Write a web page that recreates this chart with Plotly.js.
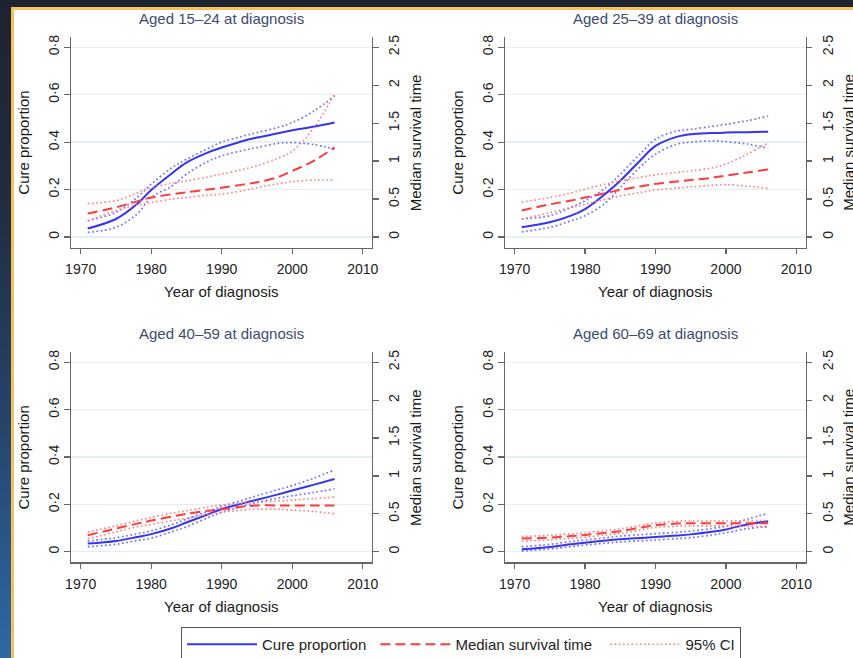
<!DOCTYPE html>
<html>
<head>
<meta charset="utf-8">
<script src="https://cdn.plot.ly/plotly-3.0.1.min.js"></script>
<style>
  html, body { margin: 0; padding: 0; }
  body { width: 853px; height: 658px; overflow: hidden;
         background: linear-gradient(180deg, #1e2330 0%, #212c40 30%, #26456c 65%, #2d69a6 100%); }
  #frame { position: absolute; left: 11px; top: 7px; width: 839px; height: 648px;
           border-top: 3px solid #f5c15d; border-left: 3px solid #f5c15d; background: #ffffff; overflow: hidden; }
  #chart { width: 839px; height: 662px; }
</style>
</head>
<body>
<div id="frame"><div id="chart"></div></div>
<script>
// ---------------- data ----------------
const years = [1971, 1975, 1978, 1980, 1983, 1985, 1988, 1990, 1993, 1995, 1998, 2000, 2003, 2006];

const panelTitles = ['Aged 15\u201324 at diagnosis', 'Aged 25\u201339 at diagnosis',
                     'Aged 40\u201359 at diagnosis', 'Aged 60\u201369 at diagnosis'];

// Cure proportion (left axis)
const cure15   = [0.036, 0.076, 0.139, 0.198, 0.270, 0.314, 0.356, 0.377, 0.405, 0.419, 0.437, 0.450, 0.465, 0.483];
const cureHi15 = [0.069, 0.104, 0.167, 0.223, 0.293, 0.328, 0.372, 0.400, 0.425, 0.440, 0.462, 0.482, 0.530, 0.594];
const cureLo15 = [0.020, 0.041, 0.097, 0.167, 0.216, 0.265, 0.318, 0.342, 0.365, 0.377, 0.395, 0.398, 0.390, 0.370];

const cure25   = [0.041, 0.062, 0.090, 0.118, 0.185, 0.237, 0.328, 0.384, 0.422, 0.433, 0.438, 0.440, 0.442, 0.444];
const cureHi25 = [0.076, 0.090, 0.125, 0.153, 0.209, 0.265, 0.356, 0.412, 0.447, 0.454, 0.466, 0.475, 0.490, 0.510];
const cureLo25 = [0.022, 0.041, 0.068, 0.090, 0.146, 0.209, 0.300, 0.349, 0.391, 0.400, 0.405, 0.402, 0.392, 0.374];

const cure40   = [0.034, 0.045, 0.062, 0.074, 0.100, 0.123, 0.157, 0.180, 0.204, 0.219, 0.242, 0.258, 0.282, 0.307];
const cureHi40 = [0.045, 0.059, 0.075, 0.088, 0.115, 0.137, 0.170, 0.190, 0.218, 0.236, 0.262, 0.279, 0.310, 0.345];
const cureLo40 = [0.021, 0.031, 0.047, 0.057, 0.085, 0.105, 0.143, 0.166, 0.192, 0.208, 0.226, 0.236, 0.250, 0.265];

const cure60   = [0.010, 0.020, 0.031, 0.038, 0.047, 0.052, 0.058, 0.062, 0.068, 0.073, 0.084, 0.094, 0.115, 0.128];
const cureHi60 = [0.021, 0.031, 0.043, 0.049, 0.059, 0.066, 0.072, 0.076, 0.082, 0.087, 0.098, 0.108, 0.137, 0.162];
const cureLo60 = [0.003, 0.011, 0.021, 0.028, 0.036, 0.041, 0.046, 0.049, 0.055, 0.059, 0.070, 0.080, 0.097, 0.106];

// Median survival time (right axis)
const med15   = [0.31, 0.39, 0.47, 0.52, 0.565, 0.59, 0.625, 0.65, 0.69, 0.72, 0.79, 0.87, 1.00, 1.18];
const medHi15 = [0.44, 0.48, 0.58, 0.65, 0.71, 0.74, 0.79, 0.83, 0.89, 0.94, 1.04, 1.13, 1.43, 1.88];
const medLo15 = [0.21, 0.35, 0.42, 0.455, 0.50, 0.52, 0.55, 0.565, 0.61, 0.65, 0.70, 0.73, 0.75, 0.75];

const med25   = [0.35, 0.43, 0.48, 0.52, 0.58, 0.62, 0.67, 0.70, 0.73, 0.75, 0.78, 0.81, 0.85, 0.89];
const medHi25 = [0.46, 0.52, 0.58, 0.63, 0.70, 0.74, 0.79, 0.82, 0.85, 0.87, 0.91, 0.96, 1.09, 1.24];
const medLo25 = [0.24, 0.32, 0.39, 0.43, 0.50, 0.54, 0.59, 0.62, 0.645, 0.66, 0.68, 0.69, 0.67, 0.64];

const med40   = [0.217, 0.305, 0.37, 0.41, 0.465, 0.50, 0.54, 0.56, 0.595, 0.61, 0.61, 0.61, 0.61, 0.61];
const medHi40 = [0.26, 0.34, 0.41, 0.45, 0.51, 0.54, 0.59, 0.615, 0.64, 0.65, 0.67, 0.68, 0.70, 0.72];
const medLo40 = [0.17, 0.26, 0.33, 0.36, 0.41, 0.44, 0.49, 0.52, 0.55, 0.56, 0.56, 0.55, 0.53, 0.50];

const med60   = [0.172, 0.185, 0.205, 0.22, 0.25, 0.27, 0.32, 0.35, 0.37, 0.375, 0.375, 0.375, 0.375, 0.375];
const medHi60 = [0.20, 0.215, 0.235, 0.25, 0.28, 0.30, 0.35, 0.38, 0.40, 0.405, 0.405, 0.405, 0.41, 0.41];
const medLo60 = [0.14, 0.155, 0.175, 0.19, 0.22, 0.24, 0.29, 0.32, 0.335, 0.34, 0.34, 0.34, 0.335, 0.33];

// ticks
const xTicks = [1970, 1980, 1990, 2000, 2010];
const cureTicks = [0, 0.2, 0.4, 0.6, 0.8];
const cureTickText = ['0', '0\u00b72', '0\u00b74', '0\u00b76', '0\u00b78'];
const medTicks = [0, 0.5, 1, 1.5, 2, 2.5];
const medTickText = ['0', '0\u00b75', '1', '1\u00b75', '2', '2\u00b75'];

const seriesNames = ['Cure proportion\u00a0', 'Median survival time\u00a0\u00a0', '95% CI'];

// ---------------- build ----------------
const W = 839, H = 662;
const panels = [
  {cure: cure15, hi: cureHi15, lo: cureLo15, med: med15, mhi: medHi15, mlo: medLo15},
  {cure: cure25, hi: cureHi25, lo: cureLo25, med: med25, mhi: medHi25, mlo: medLo25},
  {cure: cure40, hi: cureHi40, lo: cureLo40, med: med40, mhi: medHi40, mlo: medLo40},
  {cure: cure60, hi: cureHi60, lo: cureLo60, med: med60, mhi: medHi60, mlo: medLo60}
];
// panel boxes in px (div coordinates)
const colX = [[56.8, 357.9], [490.8, 791.5]];
const rowY = [[27, 237.7], [342.1, 552.3]];

const BLUE = '#3434f4', RED = '#ff3b3b', BLUE_CI = '#7070ff', RED_CI = '#ff7d7d';
const FONT = 'Liberation Sans, Arial, Helvetica, sans-serif';

const traces = [];
const layout = {
  width: W, height: H,
  margin: {l: 0, r: 0, t: 0, b: 0},
  paper_bgcolor: '#ffffff', plot_bgcolor: '#ffffff',
  font: {family: FONT, color: '#222222', size: 14},
  showlegend: true,
  legend: {
    orientation: 'h', x: 167 / W, xanchor: 'left', y: 1 - 617 / H, yanchor: 'top',
    bordercolor: '#555555', borderwidth: 1, bgcolor: '#ffffff',
    font: {family: FONT, size: 15, color: '#222222'}, itemwidth: 70, traceorder: 'normal'
  },
  annotations: []
};

const yRange = [-0.045, 0.843];
const scale2 = 2.5 / 0.8;
const y2Range = [yRange[0] * scale2, yRange[1] * scale2];

panels.forEach((p, i) => {
  const c = i % 2, r = Math.floor(i / 2);
  const xn = i + 1;
  const yl = 2 * i + 1, yr = 2 * i + 2;
  const xName = xn === 1 ? 'x' : 'x' + xn;
  const ylName = yl === 1 ? 'y' : 'y' + yl;
  const yrName = 'y' + yr;
  const xKey = xn === 1 ? 'xaxis' : 'xaxis' + xn;
  const ylKey = yl === 1 ? 'yaxis' : 'yaxis' + yl;
  const yrKey = 'yaxis' + yr;
  const xd = [colX[c][0] / W, colX[c][1] / W];
  const yd = [1 - rowY[r][1] / H, 1 - rowY[r][0] / H];

  const axCommon = {
    showline: true, linecolor: '#666666', linewidth: 1.2,
    ticks: 'outside', ticklen: 5.5, tickwidth: 1.2, tickcolor: '#666666',
    zeroline: false, fixedrange: true,
    tickfont: {family: FONT, size: 14, color: '#222222'}
  };
  layout[xKey] = Object.assign({}, axCommon, {
    domain: xd, anchor: ylName, range: [1968.6, 2011.3],
    tickmode: 'array', tickvals: xTicks, ticktext: xTicks.map(String),
    showgrid: false, ticklabelstandoff: 3
  });
  layout[ylKey] = Object.assign({}, axCommon, {
    domain: yd, anchor: xName, range: yRange,
    tickmode: 'array', tickvals: cureTicks, ticktext: cureTickText, tickangle: -90,
    showgrid: true, gridcolor: '#e6eff0', gridwidth: 1.3, ticklabelstandoff: 1.5
  });
  layout[yrKey] = Object.assign({}, axCommon, {
    overlaying: ylName, side: 'right', anchor: xName, range: y2Range,
    tickmode: 'array', tickvals: medTicks, ticktext: medTickText, tickangle: -90,
    showgrid: false, ticklabelstandoff: 4
  });

  const first = i === 0;
  const mk = (y, yaxis, color, width, dash, name, show, rank) => ({
    type: 'scatter', mode: 'lines', x: years, y: y, xaxis: xName, yaxis: yaxis,
    line: {color: color, width: width, dash: dash, shape: 'spline', smoothing: 1},
    name: name, showlegend: show, legendrank: rank, hoverinfo: 'skip'
  });
  traces.push(mk(p.hi, ylName, BLUE_CI, 1.7, '1.7px,2.6px', seriesNames[2], false, 3));
  traces.push(mk(p.lo, ylName, BLUE_CI, 1.7, '1.7px,2.6px', seriesNames[2], false, 3));
  traces.push(mk(p.mhi, yrName, RED_CI, 1.6, '1.6px,2.6px', seriesNames[2], first, 3));
  traces.push(mk(p.mlo, yrName, RED_CI, 1.6, '1.6px,2.6px', seriesNames[2], false, 3));
  traces.push(mk(p.med, yrName, RED, 2, '10px,5px', seriesNames[1], first, 2));
  traces.push(mk(p.cure, ylName, BLUE, 2, 'solid', seriesNames[0], first, 1));

  const cx = (colX[c][0] + colX[c][1]) / 2 / W;
  const cyMid = 1 - (rowY[r][0] + rowY[r][1]) / 2 / H;
  // panel title
  layout.annotations.push({
    text: panelTitles[i], xref: 'paper', yref: 'paper', x: cx, y: 1 - (r === 0 ? 8.2 : 323.2) / H,
    xanchor: 'center', yanchor: 'middle', showarrow: false,
    font: {family: FONT, size: 15, color: '#3d4b70'}
  });
  // x title
  layout.annotations.push({
    text: 'Year of diagnosis', xref: 'paper', yref: 'paper', x: cx,
    y: 1 - (rowY[r][1] + 44) / H, xanchor: 'center', yanchor: 'middle', showarrow: false,
    font: {family: FONT, size: 15, color: '#1a1a1a'}
  });
  // left y title
  layout.annotations.push({
    text: 'Cure proportion', xref: 'paper', yref: 'paper', x: (colX[c][0] - 47.5) / W, y: cyMid,
    xanchor: 'center', yanchor: 'middle', textangle: -90, showarrow: false,
    font: {family: FONT, size: 15, color: '#1a1a1a'}
  });
  // right y title
  layout.annotations.push({
    text: 'Median survival time', xref: 'paper', yref: 'paper', x: (colX[c][1] + 43) / W, y: cyMid,
    xanchor: 'center', yanchor: 'middle', textangle: -90, showarrow: false,
    font: {family: FONT, size: 15, color: '#1a1a1a'}
  });
});

Plotly.newPlot('chart', traces, layout, {displayModeBar: false, staticPlot: true});
</script>
</body>
</html>
